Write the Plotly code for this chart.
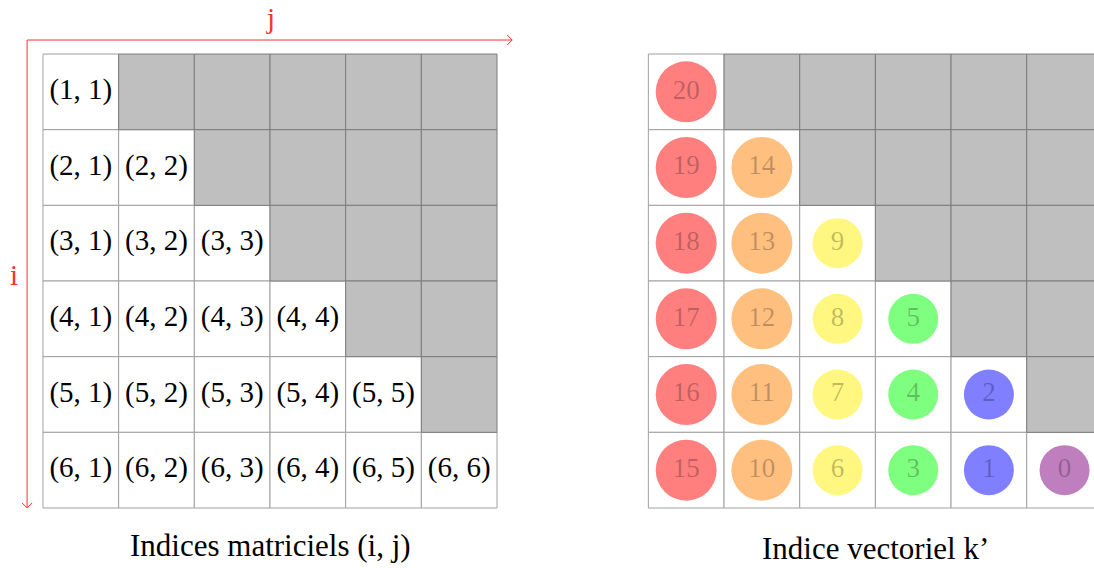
import plotly.graph_objects as go

# ---- data ----
n = 6
row_idx = [1, 2, 3, 4, 5, 6]
col_idx = [1, 2, 3, 4, 5, 6]
k_values = [
    [20],
    [19, 14],
    [18, 13, 9],
    [17, 12, 8, 5],
    [16, 11, 7, 4, 2],
    [15, 10, 6, 3, 1, 0],
]
col_colors = ["rgba(255,0,0,0.5)", "rgba(255,128,0,0.5)", "rgba(255,240,0,0.5)",
              "rgba(0,255,0,0.5)", "rgba(0,0,255,0.5)", "rgba(128,0,128,0.5)"]
col_sizes = [61, 61, 50, 50, 50, 50]
title_left = "Indices matriciels (i, j)"
title_right = "Indice vectoriel k’"
label_i = "i"
label_j = "j"

left_off = 0
right_off = 8
FONT = "Liberation Serif"
RED = "#ff3030"

fig = go.Figure()
shapes = []

# grids
for off in (left_off, right_off):
    for r in range(n):
        for c in range(n):
            if c <= r:
                shapes.append(dict(type="rect", x0=off + c, x1=off + c + 1, y0=r, y1=r + 1,
                                   fillcolor="white", line=dict(color="#a0a0a0", width=1), layer="below"))
    for r in range(n):
        for c in range(n):
            if c > r:
                shapes.append(dict(type="rect", x0=off + c, x1=off + c + 1, y0=r, y1=r + 1,
                                   fillcolor="#bfbfbf", line=dict(color="#7c7c7c", width=1), layer="below"))

# left grid labels
lx, ly, lt = [], [], []
for r, i in enumerate(row_idx):
    for c, j in enumerate(col_idx):
        if c <= r:
            lx.append(left_off + c + 0.5)
            ly.append(r + 0.5)
            lt.append(f"({i}, {j})")
fig.add_trace(go.Scatter(x=lx, y=ly, text=lt, mode="text",
                         textfont=dict(family=FONT, size=29, color="black"),
                         hoverinfo="skip", showlegend=False))

# right grid circles
for c in range(n):
    xs, ys, ts = [], [], []
    for r in range(n):
        if c <= r:
            xs.append(right_off + c + 0.5)
            ys.append(r + 0.5)
            ts.append(str(k_values[r][c]))
    fig.add_trace(go.Scatter(x=xs, y=ys, text=ts, mode="markers+text",
                             marker=dict(size=col_sizes[c], color=col_colors[c], line=dict(width=0)),
                             textposition="middle center",
                             textfont=dict(family=FONT, size=27, color="rgba(0,0,0,0.25)"),
                             hoverinfo="skip", showlegend=False))

# red axes arrows
gx, gy = 0.21, 0.185
x_end = left_off + n + 0.2
y_end = n
h = 0.066
shapes += [
    dict(type="line", x0=left_off - gx, y0=-gy, x1=x_end, y1=-gy, line=dict(color=RED, width=1)),
    dict(type="line", x0=x_end - h, y0=-gy - h, x1=x_end, y1=-gy, line=dict(color=RED, width=1)),
    dict(type="line", x0=x_end - h, y0=-gy + h, x1=x_end, y1=-gy, line=dict(color=RED, width=1)),
    dict(type="line", x0=left_off - gx, y0=-gy, x1=left_off - gx, y1=y_end, line=dict(color=RED, width=1)),
    dict(type="line", x0=left_off - gx - h, y0=y_end - h, x1=left_off - gx, y1=y_end, line=dict(color=RED, width=1)),
    dict(type="line", x0=left_off - gx + h, y0=y_end - h, x1=left_off - gx, y1=y_end, line=dict(color=RED, width=1)),
]

annotations = [
    dict(x=left_off + n / 2, y=-0.48, text=label_j, showarrow=False,
         font=dict(family=FONT, size=29, color=RED), xref="x", yref="y"),
    dict(x=left_off - 0.38, y=n / 2 - 0.08, text=label_i, showarrow=False,
         font=dict(family=FONT, size=29, color=RED), xref="x", yref="y"),
    dict(x=left_off + n / 2, y=n + 0.5, text=title_left, showarrow=False,
         font=dict(family=FONT, size=31, color="black"), xref="x", yref="y"),
    dict(x=right_off + n / 2, y=n + 0.54, text=title_right, showarrow=False,
         font=dict(family=FONT, size=31, color="black"), xref="x", yref="y"),
]

fig.update_layout(
    width=1094, height=568,
    margin=dict(l=0, r=0, t=0, b=0),
    paper_bgcolor="white", plot_bgcolor="white",
    shapes=shapes, annotations=annotations,
    xaxis=dict(range=[-0.568, 13.889], visible=False, fixedrange=True),
    yaxis=dict(range=[6.793, -0.714], visible=False, fixedrange=True),
)

fig.write_html("out.html", config={"displayModeBar": False},
               post_script="document.body.style.margin='0px';document.body.style.overflow='hidden';")
